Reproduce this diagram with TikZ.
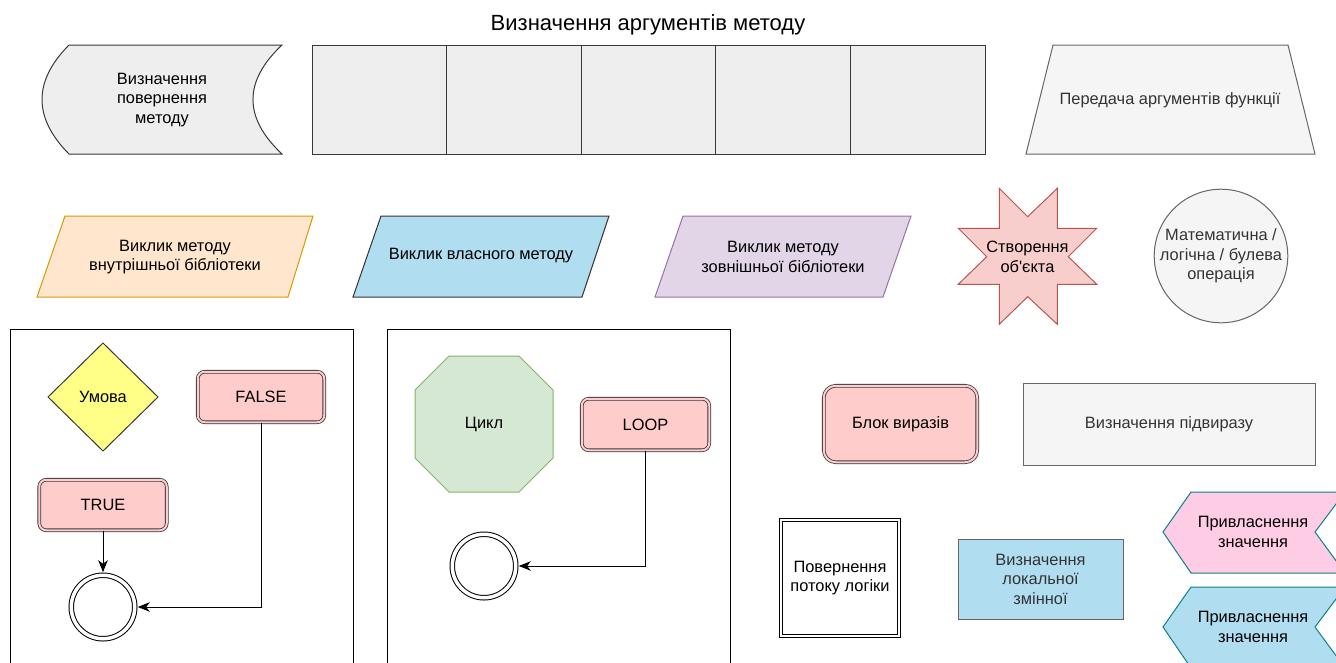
\documentclass[tikz,border=0pt]{standalone}
\usepackage{fontspec}
\newfontfamily\lsans{Liberation Sans}
\usetikzlibrary{arrows.meta}

\definecolor{ink}{HTML}{36393D}
\definecolor{greyfill}{HTML}{EEEEEE}
\definecolor{lightfill}{HTML}{F5F5F5}
\definecolor{greyline}{HTML}{666666}
\definecolor{greytext}{HTML}{333333}
\definecolor{orangefill}{HTML}{FFE6CC}
\definecolor{orangeline}{HTML}{D79B00}
\definecolor{bluefill}{HTML}{B1DDF0}
\definecolor{purplefill}{HTML}{E1D5E7}
\definecolor{purpleline}{HTML}{9673A6}
\definecolor{redfill}{HTML}{F8CECC}
\definecolor{redline}{HTML}{B85450}
\definecolor{yellowfill}{HTML}{FFFF88}
\definecolor{greenfill}{HTML}{D5E8D4}
\definecolor{greenline}{HTML}{82B366}
\definecolor{pinkbox}{HTML}{FFCCCC}
\definecolor{pinkfill}{HTML}{FFCCE6}
\definecolor{tealline}{HTML}{0E8088}

\begin{document}
\begin{tikzpicture}[x=1pt,y=-1pt,
  line width=1pt,
  every node/.style={font=\lsans\fontsize{16.4}{19.5}\selectfont, align=center, inner sep=0pt},
  label/.style={text=black},
  greylabel/.style={text=greytext},
  cell/.style={draw=ink, fill=greyfill, line width=0.9pt, minimum width=134.6pt, minimum height=109pt},
  flagbox/.style={draw=ink, double=pinkbox, double distance=2pt, line width=0.8pt,
    fill=pinkbox, rounded corners=7pt},
  endcircle/.style={circle, draw=black, double=white, double distance=3.5pt,
    line width=1pt, minimum size=63.5pt, outer sep=3pt},
  flow/.style={draw=black, line width=1pt, -{Stealth[length=12pt,width=9.5pt,inset=3.5pt]}}
]
\useasboundingbox (0,0) rectangle (1336,662);

% title
\node[label, font=\lsans\fontsize{22}{24}\selectfont] (title) at (648,25) {Визначення аргументів методу};

% return-type definition: convex left, concave right
\draw[draw=ink, fill=greyfill]
  (69,45) -- (282,45) .. controls (243.3,81.3) and (243.3,117.7) .. (282,154)
  -- (69,154) .. controls (33,117.7) and (33,81.3) .. cycle;
\node[label] (ret) at (162,100) {Визначення\\повернення\\методу};

% argument cells
\foreach \i in {0,...,4}
  \node[cell] (arg\i) at ({379.3+134.6*\i},99.5) {};

% passing function arguments
\draw[draw=greyline, fill=lightfill] (1053,45) -- (1288,45) -- (1315,154) -- (1026,154) -- cycle;
\node[greylabel] (pass) at (1170,100) {Передача аргументів функції};

% method calls
\draw[draw=orangeline, fill=orangefill] (65,216) -- (313,216) -- (288,297) -- (37,297) -- cycle;
\node[label] (callin) at (175,257) {Виклик методу\\внутрішньої бібліотеки};

\draw[draw=greytext, fill=bluefill] (381,216) -- (609,216) -- (582,297) -- (353,297) -- cycle;
\node[label] (callown) at (481,256) {Виклик власного методу};

\draw[draw=purpleline, fill=purplefill] (683,216) -- (911,216) -- (883,297) -- (655,297) -- cycle;
\node[label] (callext) at (783,257) {Виклик методу\\зовнішньої бібліотеки};

% object creation star
\draw[draw=redline, fill=redfill]
  (999.3,188.3) -- (1027.7,216.7) -- (1057.3,188.3) -- (1057.3,228.3)
  -- (1096.7,228.3) -- (1068.3,256.7) -- (1096.7,284.3) -- (1057.3,284.3)
  -- (1057.3,324.3) -- (1027.7,296.7) -- (999.3,324.3) -- (999.3,284.3)
  -- (958.3,284.3) -- (986.7,256.7) -- (958.3,228.3) -- (999.3,228.3) -- cycle;
\node[label] (create) at (1027.5,257) {Створення\\об\symbol{39}єкта};

% operation
\node[circle, draw=greyline, fill=lightfill, greylabel, minimum size=132pt] (op) at (1221,256)
  {Математична /\\логічна / булева\\операція};

% condition frame
\draw[draw=black, line width=1pt] (10,664) -- (10,329.5) -- (353.5,329.5) -- (353.5,664);
\draw[draw=ink, fill=yellowfill] (103,343) -- (158,397) -- (103,451) -- (48,397) -- cycle;
\node[label] (cond) at (103,397) {Умова};
\node[flagbox, minimum width=126.5pt, minimum height=50.5pt, label] (false) at (261,397) {FALSE};
\node[flagbox, minimum width=127.5pt, minimum height=50.5pt, label] (true) at (103,505) {TRUE};
\node[endcircle] (end1) at (103,607) {};
\draw[flow] (true.south) -- (end1.north);
\draw[flow] (false.south) |- (end1.east);

% loop frame
\draw[draw=black, line width=1pt] (387,664) -- (387,329.5) -- (730,329.5) -- (730,664);
\draw[draw=greenline, fill=greenfill]
  (449,356) -- (519,356) -- (553,390) -- (553,458) -- (519,492) -- (449,492)
  -- (415,458) -- (415,390) -- cycle;
\node[label] (loop) at (484,424) {Цикл};
\node[flagbox, minimum width=127.5pt, minimum height=51.5pt, label] (loopflag) at (645.5,424.5) {LOOP};
\node[endcircle] (end2) at (484,566) {};
\draw[flow] (loopflag.south) |- (end2.east);

% expression block and sub-expression
\node[flagbox, rounded corners=12pt, minimum width=153.5pt, minimum height=76.5pt, label] (block) at (900.5,424) {Блок виразів};
\node[draw=greyline, fill=lightfill, greylabel, minimum width=292pt, minimum height=82pt] (subexpr) at (1169,424) {Визначення підвиразу};

% return of control flow
\node[draw=black, double=white, double distance=2pt, line width=1pt, fill=white,
  minimum width=118.5pt, minimum height=116.5pt, label] (back) at (840,578) {Повернення\\потоку логіки};

% local variable
\node[draw=greyline, fill=bluefill, greylabel, minimum width=165pt, minimum height=80pt] (local) at (1040.5,579) {Визначення\\локальної\\змінної};

% assignments
\draw[draw=tealline, fill=pinkfill]
  (1163,532) -- (1191,492) -- (1345,492) -- (1315,532) -- (1345,573) -- (1191,573) -- cycle;
\node[label] (assign1) at (1253,532) {Привласнення\\значення};
\draw[draw=tealline, fill=bluefill]
  (1163,627) -- (1191,587) -- (1345,587) -- (1315,627) -- (1345,668) -- (1191,668) -- cycle;
\node[label] (assign2) at (1253,627) {Привласнення\\значення};
\end{tikzpicture}
\end{document}
